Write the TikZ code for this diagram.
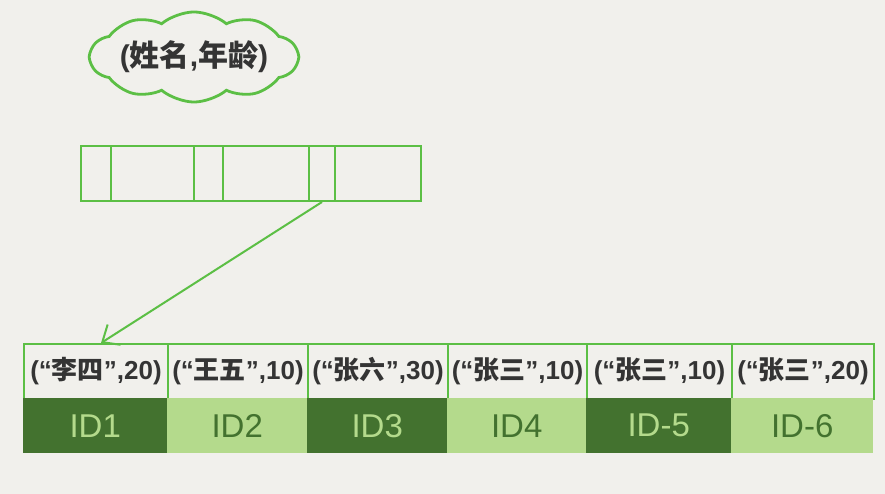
\documentclass[tikz,border=0pt]{standalone}
\usepackage{fontspec}
\setmainfont{Liberation Sans}
\newfontfamily\cjk{Noto Sans CJK SC}
\usepackage{xcolor}
\usepackage{tikz}
\usetikzlibrary{arrows.meta}
\usetikzlibrary{calc}
\usetikzlibrary{positioning}
\usetikzlibrary{shapes.symbols}

\definecolor{bgpaper}{HTML}{F1F0EC}
\definecolor{linegreen}{HTML}{5CBF45}
\definecolor{darkleaf}{HTML}{43722F}
\definecolor{lightleaf}{HTML}{B4DA8C}
\definecolor{inkgray}{HTML}{343434}

\tikzset{
  keycell/.style={draw=linegreen, line width=2pt, minimum height=55,
    inner sep=0pt, anchor=north west},
  rowcell/.style={keycell, text=inkgray, font=\fontsize{26}{28}\selectfont\bfseries},
  idcell/.style={minimum height=55, inner sep=0pt, anchor=north west,
    font=\fontsize{33}{35}\selectfont},
}

\begin{document}
\begin{tikzpicture}[x=1pt, y=-1pt]

    \fill [bgpaper] (0, 0) rectangle (885, 494);
    \useasboundingbox (0, 0) rectangle (885, 494);

    \node [cloud, draw=linegreen, line width=2.8pt, cloud puffs=10,
      cloud puff arc=80, aspect=3, minimum width=190, minimum height=58,
      inner sep=0pt, text=inkgray, font=\fontsize{30}{32}\selectfont\bfseries]
      (tag) at (194, 57) {({\cjk\bfseries 姓名},{\cjk\bfseries 年龄})};

    % index entry
    \foreach \x/\w/\n in {80/30/1, 110/83/2, 193/29/3, 222/86/4, 308/26/5, 334/86/6}
      \node [keycell, minimum width=\w] (k\n) at (\x, 145) {};

    % rows and ids
    \foreach \x/\w/\n/\c/\v in {23/144/1/李四/20, 167/140/2/王五/10,
        307/140/3/张六/30, 447/139/4/张三/10,
        586/145/5/张三/10, 731/142/6/张三/20}
      \node [rowcell, minimum width=\w] (r\n) at (\x, 343)
        {(“{\cjk\bfseries \c}”,\v)};

    \node [idcell, minimum width=144, fill=darkleaf, text=lightleaf] (id1) at (23, 398) {ID1};
    \node [idcell, minimum width=140, fill=lightleaf, text=darkleaf] (id2) at (167, 398) {ID2};
    \node [idcell, minimum width=140, fill=darkleaf, text=lightleaf] (id3) at (307, 398) {ID3};
    \node [idcell, minimum width=139, fill=lightleaf, text=darkleaf] (id4) at (447, 398) {ID4};
    \node [idcell, minimum width=145, fill=darkleaf, text=lightleaf] (id5) at (586, 398) {ID-5};
    \node [idcell, minimum width=142, fill=lightleaf, text=darkleaf] (id6) at (731, 398) {ID-6};

    \draw [linegreen, line width=2pt, -{Straight Barb[length=14pt, width=24pt]}]
      (k5.south) -- ($(r1.north) + (5, 0)$);

\end{tikzpicture}
\end{document}
